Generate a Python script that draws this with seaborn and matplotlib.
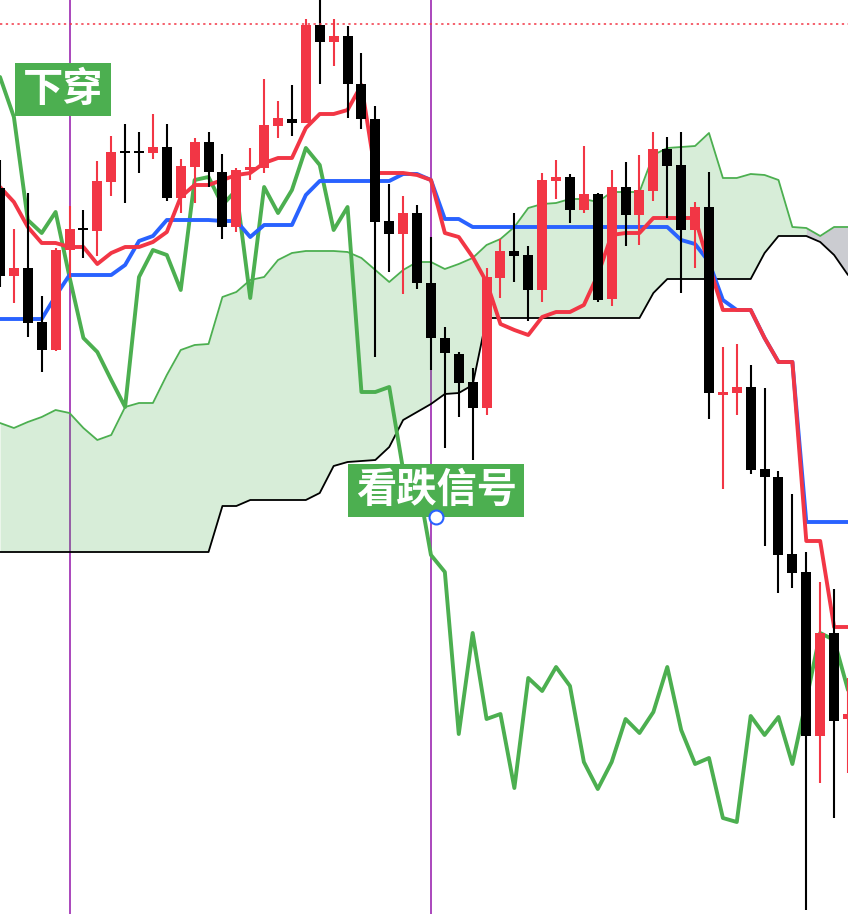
import numpy as np
import matplotlib
matplotlib.use('Agg')
import matplotlib.pyplot as plt
from matplotlib.patches import Rectangle
import seaborn as sns

# candle data (62 bars), prices
opens = [81.2, 72.4, 73.2, 67.8, 65.0, 75.0, 77.2, 76.9, 81.8, 84.9,
         84.9, 84.7, 85.3, 80.2, 83.3, 85.8, 82.8, 77.3, 83.0, 83.2,
         87.4, 88.1, 87.7, 97.5, 95.8, 96.4, 91.6, 88.1, 77.9, 76.6,
         78.7, 71.7, 66.2, 64.6, 61.8, 59.2, 72.2, 74.9, 74.5, 71.0,
         81.9, 82.3, 79.0, 80.6, 70.1, 81.3, 78.5, 80.9, 85.1, 83.5,
         77.0, 79.3, 60.5, 60.7, 61.3, 53.1, 52.3, 44.6, 42.8, 26.4,
         36.7, 28.1]
highs = [84.0, 77.1, 80.7, 70.4, 75.2, 79.4, 79.0, 83.9, 86.4, 87.6,
         86.8, 88.6, 87.6, 84.1, 86.2, 86.8, 84.6, 83.2, 85.2, 92.1,
         89.9, 91.5, 98.1, 100.5, 98.1, 97.4, 94.7, 89.4, 81.6, 80.4,
         79.5, 76.3, 67.3, 64.8, 63.2, 73.2, 76.1, 78.7, 75.4, 82.7,
         84.0, 82.6, 85.4, 80.7, 83.0, 83.8, 84.5, 86.8, 86.3, 86.8,
         79.8, 82.8, 65.3, 65.6, 63.5, 61.2, 52.9, 50.6, 44.8, 41.8,
         41.1, 32.2]
lows = [71.3, 69.7, 66.3, 62.8, 64.9, 72.2, 74.2, 74.4, 80.4, 79.7,
        82.7, 84.1, 79.9, 78.7, 79.7, 81.3, 76.1, 76.8, 82.0, 82.7,
        86.2, 86.4, 87.7, 91.6, 93.4, 88.2, 87.1, 64.3, 72.8, 70.6,
        71.1, 63.0, 55.2, 58.3, 54.0, 58.5, 70.2, 71.8, 67.9, 69.8,
        80.1, 77.7, 78.7, 69.8, 69.4, 75.4, 75.5, 79.9, 78.2, 70.7,
        73.2, 58.1, 51.1, 58.5, 52.6, 45.4, 40.7, 41.2, 9.0, 21.7,
        18.2, 22.7]
closes = [72.4, 73.2, 67.7, 65.0, 75.0, 77.1, 77.0, 81.9, 84.8, 84.7,
          84.7, 85.3, 80.2, 83.4, 85.8, 82.8, 77.3, 83.0, 83.3, 87.5,
          88.2, 87.7, 97.5, 95.8, 96.4, 91.6, 88.1, 77.8, 76.6, 78.7,
          71.7, 66.2, 64.7, 61.7, 59.2, 72.3, 74.9, 74.4, 71.0, 82.0,
          82.3, 79.0, 80.6, 70.0, 81.3, 78.5, 81.0, 85.1, 83.4, 77.0,
          79.3, 60.7, 60.8, 61.3, 53.0, 52.3, 44.5, 42.7, 26.4, 36.7,
          27.9, 28.6]

# ichimoku lines
tenkan = [81.3, 79.8, 77.3, 75.7, 75.7, 75.3, 75.3, 73.6, 74.7, 75.3,
          75.3, 75.8, 76.8, 80.3, 81.5, 81.5, 82.0, 82.5, 82.7, 83.7,
          84.2, 84.2, 87.2, 88.6, 88.6, 89.0, 91.5, 82.7, 82.7, 82.7,
          82.5, 82.0, 76.7, 76.3, 74.3, 71.8, 67.6, 67.0, 66.5, 68.3,
          68.8, 68.8, 69.5, 72.5, 76.5, 76.7, 76.7, 78.2, 78.2, 78.2,
          78.2, 73.5, 69.0, 69.0, 69.0, 66.2, 63.8, 63.8, 45.9, 45.9,
          37.3, 37.3]
kijun = [68.1, 68.1, 68.1, 68.1, 70.4, 72.5, 72.5, 72.5, 72.5, 73.5,
         75.9, 76.4, 78.0, 78.0, 78.0, 78.0, 77.9, 77.9, 76.3, 77.5,
         77.5, 77.5, 80.5, 81.9, 81.9, 81.9, 81.9, 81.9, 81.9, 82.6,
         82.6, 82.0, 78.1, 78.1, 77.3, 77.3, 77.3, 77.3, 77.3, 77.3,
         77.3, 77.3, 77.3, 77.3, 77.3, 77.3, 77.3, 77.3, 77.3, 76.0,
         75.6, 73.8, 70.0, 69.0, 69.0, 66.2, 63.8, 63.8, 47.8, 47.8,
         47.8, 47.8]
span_a = [57.7, 57.2, 57.8, 58.3, 59.0, 58.7, 57.2, 56.0, 56.5, 59.3,
          59.7, 59.7, 62.5, 65.0, 65.5, 65.6, 70.3, 70.8, 72.0, 72.3,
          74.0, 74.7, 74.9, 74.9, 74.9, 74.8, 74.2, 73.0, 71.8, 73.0,
          73.8, 73.8, 73.1, 73.6, 74.2, 75.5, 76.1, 77.3, 79.2, 79.6,
          79.7, 80.1, 80.1, 79.8, 80.8, 80.8, 80.8, 84.5, 85.2, 85.3,
          85.4, 86.7, 82.2, 82.2, 82.6, 82.5, 82.0, 77.3, 77.2, 76.4,
          77.3, 77.3]
span_b = [44.8, 44.8, 44.8, 44.8, 44.8, 44.8, 44.8, 44.8, 44.8, 44.8,
          44.8, 44.8, 44.8, 44.8, 44.8, 44.8, 49.4, 49.4, 50.0, 50.0,
          50.0, 50.0, 50.0, 50.7, 53.4, 53.8, 53.9, 54.0, 55.3, 58.0,
          58.8, 59.6, 60.6, 60.7, 61.5, 68.2, 68.2, 68.2, 68.2, 68.2,
          68.2, 68.2, 68.2, 68.2, 68.2, 68.2, 68.2, 70.7, 72.1, 72.1,
          72.1, 72.1, 72.1, 72.1, 72.1, 74.7, 76.4, 76.4, 76.4, 75.8,
          74.5, 72.5]
chikou = [92.3, 88.3, 78.0, 76.7, 78.8, 72.3, 66.2, 64.8, 62.0, 59.3,
          72.3, 75.0, 74.5, 71.0, 82.0, 82.3, 79.5, 81.0, 70.2, 81.3,
          78.7, 81.0, 85.2, 83.5, 77.0, 79.3, 60.8, 60.8, 61.3, 53.0,
          52.3, 44.5, 42.8, 26.6, 36.7, 28.1, 28.6, 21.2, 32.2, 30.9,
          33.3, 31.4, 23.8, 21.1, 23.8, 28.1, 26.7, 28.8, 33.3, 27.0,
          23.6, 24.2, 18.2, 17.8, 28.4, 26.5, 28.3, 23.6, 30.0, 36.7,
          36.0, 31.0]

cross_bars = [5, 31]          # vertical markers
ref_level = 97.65             # dotted resistance level
cloud_split = 58              # cloud after this bar drawn grey
signal_bar = 31.37            # bearish signal point
signal_price = 48.3

RED = '#f23645'
BLUE = '#2962ff'
GREEN = '#4caf50'
PURPLE = '#9c27b0'

sns.set_style('white')
plt.rcParams['font.family'] = ['Noto Sans CJK SC', 'DejaVu Sans']

idx = np.arange(len(closes))
o = np.array(opens); c = np.array(closes)
h = np.array(highs); l = np.array(lows)
sa = np.array(span_a); sb = np.array(span_b)

fig = plt.figure(figsize=(8.48, 9.14), dpi=100)
ax = fig.add_axes([0, 0, 1, 1])

# purple vertical lines
for b in cross_bars:
    ax.axvline(b, color=PURPLE, lw=1.2, zorder=1)

# cloud
g = idx <= cloud_split
ax.fill_between(idx[g], sa[g], sb[g], color=GREEN, alpha=0.22, lw=0, zorder=2)
r = idx >= cloud_split
ax.fill_between(idx[r], sa[r], sb[r], color='#787b86', alpha=0.38, lw=0, zorder=2)

sns.lineplot(x=idx, y=sa, ax=ax, color=GREEN, lw=1.3, zorder=3)
sns.lineplot(x=idx, y=sb, ax=ax, color='black', lw=1.3, zorder=3)
sns.lineplot(x=idx, y=chikou, ax=ax, color=GREEN, lw=2.8, zorder=3)
sns.lineplot(x=idx, y=kijun, ax=ax, color=BLUE, lw=2.8, zorder=4)
sns.lineplot(x=idx, y=tenkan, ax=ax, color=RED, lw=2.8, zorder=4)

# candles
up = c >= o
cols = np.where(up, RED, 'black')
ax.vlines(idx, l, h, colors=cols, lw=1.5, zorder=5)
body = np.abs(c - o)
body = np.maximum(body, 0.2)
ax.bar(idx, body, bottom=np.minimum(o, c), width=0.72, color=cols, lw=0, zorder=5)

# dotted level
ax.axhline(ref_level, color=RED, lw=1.1, ls=(0, (1.5, 2.3)), zorder=6)

# labels
ax.add_patch(Rectangle((1.08, 88.4), 6.91, 5.3, color=GREEN, lw=0, zorder=7))
ax.text(4.53, 91.05, '下穿', color='white', fontsize=29, fontweight='bold',
        ha='center', va='center', zorder=8)
ax.add_patch(Rectangle((25.04, signal_price), 12.66, 5.3, color=GREEN, lw=0, zorder=7))
ax.text(signal_bar, signal_price + 2.65, '看跌信号', color='white', fontsize=29,
        fontweight='bold', ha='center', va='center', zorder=8)
ax.plot([signal_bar], [signal_price], marker='o', ms=10, mfc='white', mec=BLUE,
        mew=1.5, zorder=9)

ax.set_xlim(0, 61.0)
ax.set_ylim(8.6, 100)
ax.axis('off')

fig.savefig('out.png', dpi=100)
